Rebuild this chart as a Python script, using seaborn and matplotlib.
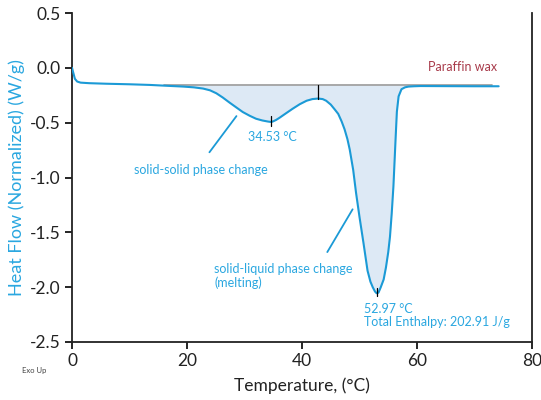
import numpy as np
import pandas as pd
import matplotlib
matplotlib.use("Agg")
import matplotlib.pyplot as plt
import seaborn as sns

# Data
temperature = [0.0, 0.2, 0.5, 0.9, 1.5, 3.0, 6.0, 10.0, 13.6, 17.0, 19.4, 21.2, 22.8, 24.0,
               25.1, 26.2, 27.4, 28.6, 29.7, 30.9, 32.0, 33.1, 34.1, 34.53, 34.9, 35.5,
               36.1, 37.2, 38.4, 39.6, 40.8, 41.8, 42.8, 43.6, 44.2, 45.0, 45.7, 46.3,
               46.9, 47.4, 47.9, 48.3, 48.9, 49.4, 50.0, 50.7, 51.4, 51.9, 52.3, 52.7,
               52.97, 53.3, 53.7, 54.2, 54.6, 55.0, 55.3, 55.6, 55.9, 56.1, 56.3, 56.5,
               56.8, 57.3, 57.9, 58.5, 59.5, 60.6, 65.0, 70.0, 74.2]
heat_flow = [0.0, -0.04, -0.10, -0.125, -0.135, -0.14, -0.145, -0.15, -0.156, -0.165,
             -0.171, -0.178, -0.189, -0.205, -0.232, -0.27, -0.317, -0.362, -0.403, -0.437,
             -0.464, -0.48, -0.49, -0.493, -0.49, -0.475, -0.455, -0.415, -0.372, -0.332,
             -0.30, -0.285, -0.28, -0.285, -0.30, -0.335, -0.38, -0.42, -0.49, -0.56,
             -0.65, -0.745, -0.93, -1.14, -1.36, -1.60, -1.85, -1.95, -2.0, -2.04, -2.055,
             -2.05, -2.0, -1.93, -1.82, -1.68, -1.54, -1.33, -1.08, -0.85, -0.62, -0.40,
             -0.26, -0.195, -0.178, -0.171, -0.168, -0.166, -0.167, -0.168, -0.168]
baseline_T = [16.0, 73.0]
baseline_hf = [-0.158, -0.158]
peak_T = [34.53, 42.8, 52.97]
peak_hf = [-0.493, -0.28, -2.055]
x_ticks = [0, 20, 40, 60, 80]
y_ticks = [0.5, 0.0, -0.5, -1.0, -1.5, -2.0, -2.5]

df = pd.DataFrame({"T": temperature, "HF": heat_flow})

sns.set_theme(style="white")
plt.rcParams["font.family"] = ["Lato", "DejaVu Sans"]

blue = "#1b9ad6"
label_blue = "#2aa7e0"
fill_blue = "#dde9f5"

fig = plt.figure(figsize=(5.41, 4.0), dpi=100)
ax = fig.add_axes([72 / 541, 1 - 342 / 400, (532 - 72) / 541, (342 - 13) / 400])

# fill between baseline and curve
Tarr = np.array(temperature)
HFarr = np.array(heat_flow)
mask = (Tarr >= baseline_T[0]) & (Tarr <= 60.6)
ax.fill_between(Tarr[mask], np.minimum(HFarr[mask], baseline_hf[0]), baseline_hf[0],
                color=fill_blue, lw=0, zorder=1)

ax.plot(baseline_T, baseline_hf, color="#9a9a9a", lw=1.2, zorder=2)
sns.lineplot(data=df, x="T", y="HF", ax=ax, color=blue, lw=1.5, zorder=3, sort=False)

# peak markers
ax.plot([peak_T[0], peak_T[0]], [peak_hf[0] + 0.05, peak_hf[0] - 0.04], color="black", lw=0.9, zorder=4)
ax.plot([peak_T[1], peak_T[1]], [baseline_hf[0], peak_hf[1]], color="black", lw=0.9, zorder=4)
ax.plot([peak_T[2], peak_T[2]], [peak_hf[2] + 0.05, peak_hf[2] - 0.03], color="black", lw=0.9, zorder=4)

ax.set_xlim(0, 80)
ax.set_ylim(-2.5, 0.5)
ax.set_xticks(x_ticks)
ax.set_yticks(y_ticks)
ax.set_yticklabels([f"{v:.1f}" for v in y_ticks])
ax.tick_params(axis="both", direction="out", length=5, width=1.2, colors="black",
               labelsize=12.5, labelcolor="#222222", left=True, bottom=True, pad=3)
for s in ["left", "bottom", "right"]:
    ax.spines[s].set_color("#222222")
    ax.spines[s].set_linewidth(1.3)
ax.spines["top"].set_visible(False)

ax.set_xlabel("Temperature, (°C)", fontsize=12.5, color="#222222", labelpad=6)
ax.set_ylabel("Heat Flow (Normalized) (W/g)", fontsize=13, color=label_blue, labelpad=4)

# annotations
ax.text(74.0, 0.01, "Paraffin wax", color="#a83a4a", fontsize=9, ha="right", va="center")
ax.text(30.6, -0.63, "34.53 °C", color=label_blue, fontsize=9, ha="left", va="center")
ax.text(10.7, -0.93, "solid-solid phase change", color=label_blue, fontsize=9, ha="left", va="center")
ax.plot([28.6, 23.9], [-0.44, -0.77], color=blue, lw=1.3)
ax.text(24.7, -1.90, "solid-liquid phase change\n(melting)", color=label_blue, fontsize=9,
        ha="left", va="center", linespacing=1.1)
ax.plot([48.8, 44.4], [-1.29, -1.68], color=blue, lw=1.3)
ax.text(50.8, -2.26, "52.97 °C\nTotal Enthalpy: 202.91 J/g", color=label_blue, fontsize=9,
        ha="left", va="center", linespacing=1.1)

fig.text(22 / 541, 1 - 370 / 400, "Exo Up", fontsize=5.5, color="#444444", ha="left", va="center")

fig.savefig("out.png", dpi=100)
